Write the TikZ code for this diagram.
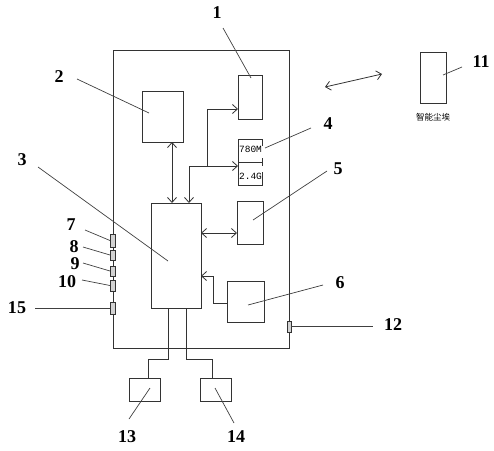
\documentclass[tikz,border=0pt]{standalone}
\usepackage{fontspec}
\setmainfont{Liberation Serif}
\newfontfamily\monof{Liberation Mono}
\newfontfamily\cjkf{Noto Sans CJK SC}
\usetikzlibrary{arrows.meta}
\begin{document}
\begin{tikzpicture}[x=1pt,y=-1pt,
  ln/.style={draw=black!80,line width=0.8pt},
  box/.style={ln,rectangle,inner sep=0pt,outer sep=0pt},
  port/.style={box,fill=gray!35,minimum width=5pt},
  num/.style={font=\bfseries\fontsize{18}{18}\selectfont,inner sep=0pt},
  tip/.style={ln,-{Straight Barb[length=5pt,width=9pt]}},
  dtip/.style={ln,{Straight Barb[length=5pt,width=9pt]}-{Straight Barb[length=5pt,width=9pt]}},
  lead/.style={draw=black!75,line width=0.7pt}]
\useasboundingbox (0,0) rectangle (494,450);
% boxes
\node[box,minimum width=176pt,minimum height=298pt] (outer) at (201.5,199) {};
\node[box,minimum width=24pt,minimum height=44pt] (b1) at (250,97) {};
\node[box,minimum width=41pt,minimum height=51pt] (b2) at (162.5,116.5) {};
\node[box,minimum width=50pt,minimum height=105pt] (b3) at (176,255.5) {};
\node[box,minimum width=26pt,minimum height=43pt] (b5) at (250,222.5) {};
\node[box,minimum width=37pt,minimum height=41pt] (b6) at (245.5,301.5) {};
\node[box,minimum width=31pt,minimum height=23pt] (b13) at (144.5,389.5) {};
\node[box,minimum width=31pt,minimum height=23pt] (b14) at (215.5,389.5) {};
\node[box,minimum width=26pt,minimum height=51pt] (b11) at (433,77.5) {};
% box 4 (780M / 2.4G)
\coordinate (b4w) at (238,162);
\draw[ln] (262,146) -- (262,139) -- (238,139) -- (238,185) -- (262,185) -- (262,172);
\draw[ln] (238,162) -- (262,162);
\draw[ln] (262,158) -- (262,166);
\node[font=\monof\fontsize{9.5}{10}\selectfont,inner sep=0pt] (t780) at (250.5,149) {780M};
\node[font=\monof\fontsize{9.5}{10}\selectfont,inner sep=0pt] (t24) at (250.5,176) {2.4G};
\node[font=\cjkf\fontsize{8.5}{9}\selectfont,inner sep=0pt] (tdust) at (433,117) {智能尘埃};
% ports
\node[port,minimum height=13pt] (p7) at (112.5,240.5) {};
\node[port,minimum height=10pt] (p8) at (112.5,255) {};
\node[port,minimum height=10pt] (p9) at (112.5,271) {};
\node[port,minimum height=11pt] (p10) at (112.5,285.5) {};
\node[port,minimum height=12pt] (p15) at (112.5,308) {};
\node[port,minimum width=4pt,minimum height=11pt] (p12) at (289,326.5) {};
% connectors
\coordinate (x172) at (172,0);
\draw[dtip] (b2.south -| x172) -- (b3.north -| x172);
\coordinate (y233) at (0,233);
\draw[dtip] (b3.east |- y233) -- (b5.west |- y233);
\coordinate (k1) at (213,303);
\coordinate (k2) at (213,276);
\draw[tip] (b6.west |- k1) -- (k1) -- (k2) -- (b3.east |- k2);
\coordinate (j1) at (189,166);
\coordinate (j2) at (207,166);
\coordinate (j3) at (207,109);
\draw[tip] (j1) -- (b3.north -| j1);
\draw[tip] (j1) -- (b4w |- j1);
\draw[tip] (j2) -- (j3) -- (b1.west |- j3);
\coordinate (d1) at (168,359);
\coordinate (d2) at (148,359);
\coordinate (e1) at (186,359);
\coordinate (e2) at (212,359);
\draw[ln] (b3.south -| d1) -- (d1) -- (d2) -- (b13.north -| d2);
\draw[ln] (b3.south -| e1) -- (e1) -- (e2) -- (b14.north -| e2);
\coordinate (w1) at (325,87);
\coordinate (w2) at (382,74);
\draw[dtip] (w1) -- (w2);
% labels
\node[num] (n1) at (217,13) {1};
\node[num] (n2) at (59,77) {2};
\node[num] (n3) at (22,160) {3};
\node[num] (n4) at (328,124) {4};
\node[num] (n5) at (338,169) {5};
\node[num] (n6) at (340,283) {6};
\node[num] (n7) at (71,225) {7};
\node[num] (n8) at (74,247) {8};
\node[num] (n9) at (75,264) {9};
\node[num] (n10) at (67,282) {10};
\node[num] (n15) at (17,308) {15};
\node[num] (n12) at (393,325) {12};
\node[num] (n11) at (481,62) {11};
\node[num] (n13) at (127,437) {13};
\node[num] (n14) at (236,437) {14};
% leaders
\draw[lead] (223,28) -- (251,78);
\draw[lead] (77,79) -- (149,113);
\draw[lead] (38,167) -- (168,261);
\draw[lead] (311,128) -- (265,148);
\draw[lead] (327,171) -- (253,220);
\draw[lead] (323,285) -- (248,305);
\draw[lead] (85,230) -- (p7.west);
\draw[lead] (83,247) -- (p8.west);
\draw[lead] (83,263) -- (p9.west);
\draw[lead] (82,280) -- (p10.west);
\draw[lead] (35,308) -- (p15.west);
\draw[lead] (p12.east) -- (373,326.5);
\draw[lead] (462,67) -- (443,75);
\draw[lead] (150,388) -- (129,419);
\draw[lead] (215,388) -- (234,423);
\end{tikzpicture}
\end{document}
